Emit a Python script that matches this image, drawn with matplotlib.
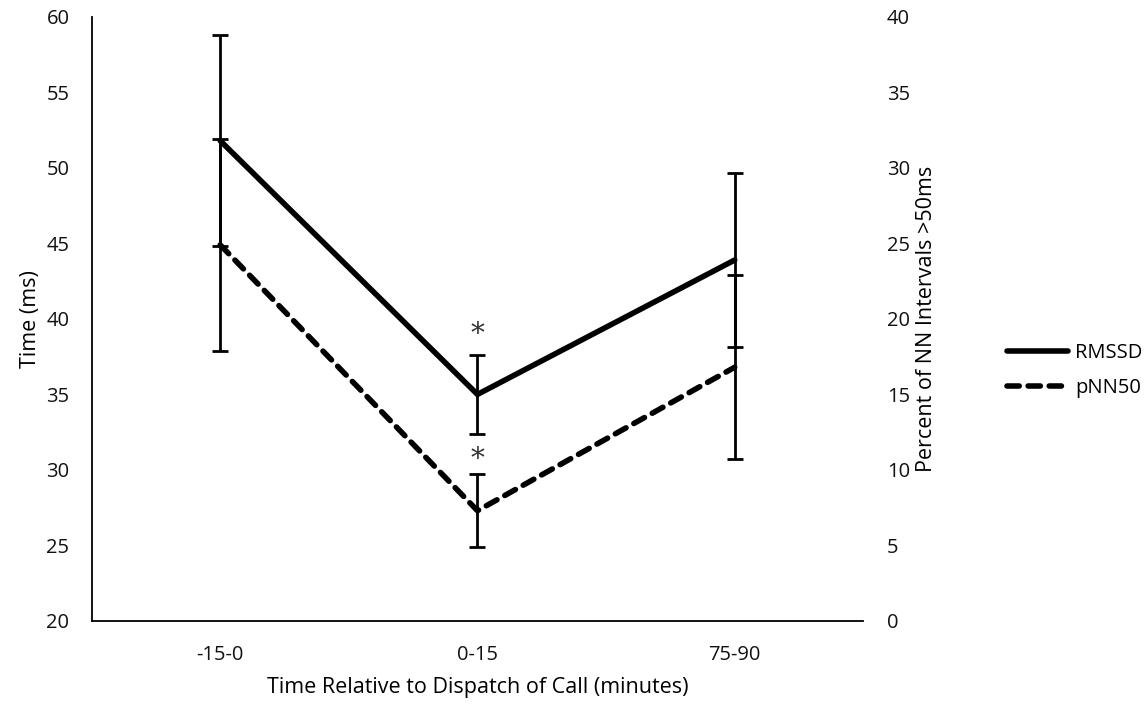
import matplotlib.pyplot as plt
import numpy as np

plt.rcParams['font.family'] = ['Open Sans', 'DejaVu Sans']

# data
periods = ["-15-0", "0-15", "75-90"]
rmssd = [51.8, 35.0, 43.9]          # ms, left axis
rmssd_err = [7.0, 2.6, 5.75]
pnn50 = [24.9, 7.3, 16.8]           # %, right axis
pnn50_err = [7.0, 2.4, 6.1]
star_left = [None, 39.0, None]      # asterisk positions (left axis units)
star_right = [None, 10.7, None]     # (right axis units)

x = np.arange(len(periods)) + 0.5

fig = plt.figure(figsize=(11.45, 7.04), dpi=100)
ax = fig.add_axes([0.080, 0.118, 0.674, 0.858])
ax2 = ax.twinx()

l1, = ax.plot(x, rmssd, color="black", lw=4, solid_capstyle="round", zorder=3)
ax.errorbar(x, rmssd, yerr=rmssd_err, fmt="none", ecolor="black",
            elinewidth=2, capsize=6, capthick=2, zorder=2)

l2, = ax2.plot(x, pnn50, color="black", lw=4, ls=(0, (2.2, 1.6)),
               dash_capstyle="round", zorder=3)
ax2.errorbar(x, pnn50, yerr=pnn50_err, fmt="none", ecolor="black",
             elinewidth=2, capsize=6, capthick=2, zorder=2)

for xi, s in zip(x, star_left):
    if s is not None:
        ax.text(xi, s, "*", ha="center", va="center", fontsize=20,
                family="DejaVu Serif", color="#333333")
for xi, s in zip(x, star_right):
    if s is not None:
        ax2.text(xi, s, "*", ha="center", va="center", fontsize=20,
                 family="DejaVu Serif", color="#333333")

ax.set_xlim(0, 3)
ax.set_ylim(20, 60)
ax.set_yticks(np.arange(20, 61, 5))
ax2.set_ylim(0, 40)
ax2.set_yticks(np.arange(0, 41, 5))
ax.set_xticks(x)
ax.set_xticklabels(periods)

for a in (ax, ax2):
    a.spines["top"].set_visible(False)
    a.spines["right"].set_visible(False)
    a.tick_params(length=0, labelsize=14.5, colors="#111111")
ax2.spines["left"].set_visible(False)
ax2.spines["bottom"].set_visible(False)
ax.spines["left"].set_linewidth(1.3)
ax.spines["bottom"].set_linewidth(1.3)
ax.tick_params(axis="y", pad=16)
ax.tick_params(axis="x", pad=17)
ax2.tick_params(axis="y", pad=17)

ax.set_ylabel("Time (ms)", fontsize=15.5, labelpad=4)
ax2.set_ylabel("Percent of NN Intervals >50ms", fontsize=15.5, labelpad=4)
ax.set_xlabel("Time Relative to Dispatch of Call (minutes)", fontsize=15.5, labelpad=9)

fig.legend([l1, l2], ["RMSSD", "pNN50"], loc="center left",
           bbox_to_anchor=(0.864, 0.474), frameon=False, fontsize=14.5,
           handlelength=3.0, handletextpad=0.35, labelspacing=0.75)

fig.savefig("out.png", dpi=100)
